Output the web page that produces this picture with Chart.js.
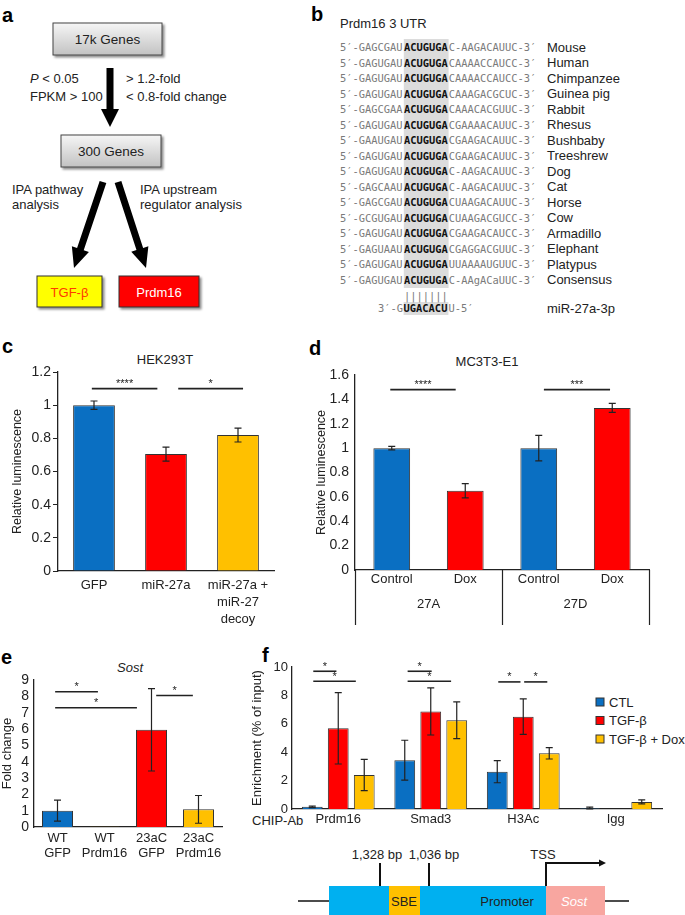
<!DOCTYPE html>
<html>
<head>
<meta charset="utf-8">
<title>Prdm16 / miR-27a figure</title>
<script src="https://cdn.jsdelivr.net/npm/chart.js@4.4.1/dist/chart.umd.min.js"></script>
<style>
  html, body { margin: 0; padding: 0; background: #fff; }
  #page { position: relative; width: 685px; height: 915px; overflow: hidden; font-family: "Liberation Sans", Arial, sans-serif; }
  #art { position: absolute; left: 0; top: 0; }
  canvas { position: absolute; }
</style>
</head>
<body>
<div id="page">
  <svg id="art" width="685" height="915" xmlns="http://www.w3.org/2000/svg" font-family="Liberation Sans, Arial, sans-serif" fill="#222">
    <defs>
      <linearGradient id="gBox" x1="0" y1="0" x2="0" y2="1">
        <stop offset="0" stop-color="#f6f6f6"/>
        <stop offset="1" stop-color="#c2c2c2"/>
      </linearGradient>
      <filter id="shadow" x="-10%" y="-10%" width="130%" height="150%">
        <feDropShadow dx="2" dy="2" stdDeviation="1.2" flood-color="#000" flood-opacity="0.45"/>
      </filter>
    </defs>
    <!-- panel a boxes -->
    <rect x="53" y="23" width="109" height="32" fill="url(#gBox)" stroke="#444" filter="url(#shadow)"/>
    <rect x="61" y="135" width="100" height="32" fill="url(#gBox)" stroke="#444" filter="url(#shadow)"/>
    <rect x="37" y="276" width="65" height="31" fill="#ffff00" stroke="#333" filter="url(#shadow)"/>
    <rect x="119" y="276" width="80" height="31" fill="#ff0000" stroke="#333" filter="url(#shadow)"/>
    <!-- panel b highlight -->
    <rect x="403.8" y="39" width="44.8" height="249" fill="#dcdcdc"/>
    <rect x="403.6" y="302" width="44.8" height="13" fill="#dcdcdc"/>
    <!-- promoter diagram -->
    <line x1="298" y1="901" x2="329" y2="901" stroke="#111" stroke-width="1.5"/>
    <line x1="605" y1="901" x2="629" y2="901" stroke="#111" stroke-width="1.5"/>
    <rect x="329" y="886" width="217" height="35" fill="#00b0f0"/>
    <rect x="389" y="886" width="31" height="35" fill="#ffc000"/>
    <rect x="546" y="886" width="59" height="35" fill="#f8a6a0"/>
    <line x1="380" y1="863" x2="380" y2="886" stroke="#111" stroke-width="2"/>
    <line x1="429" y1="863" x2="429" y2="886" stroke="#111" stroke-width="2"/>
    <polyline points="546,886 546,863 600,863" fill="none" stroke="#111" stroke-width="2"/>
    <polygon points="606,863 599,859.5 599,866.5" fill="#111"/>
  </svg>
  <canvas id="chartC" width="300" height="300" style="left:0;top:340px"></canvas>
  <canvas id="chartD" width="375" height="300" style="left:310px;top:340px"></canvas>
  <canvas id="chartE" width="230" height="210" style="left:0;top:660px"></canvas>
  <canvas id="chartF" width="445" height="185" style="left:240px;top:650px"></canvas>
</div>
<script>
// ---- panel b: Prdm16 3' UTR alignment
const species = ["Mouse", "Human", "Chimpanzee", "Guinea pig", "Rabbit", "Rhesus", "Bushbaby", "Treeshrew",
  "Dog", "Cat", "Horse", "Cow", "Armadillo", "Elephant", "Platypus", "Consensus"];
const utrSeqs = [
  "5′-GAGCGAUACUGUGAC-AAGACAUUC-3′",
  "5′-GAGUGAUACUGUGACAAAACCAUCC-3′",
  "5′-GAGUGAUACUGUGACAAAACCAUCC-3′",
  "5′-GAGUGAUACUGUGACAAAGACGCUC-3′",
  "5′-GAGCGAAACUGUGACAAACACGUUC-3′",
  "5′-GAGUGAUACUGUGACGAAAACAUUC-3′",
  "5′-GAAUGAUACUGUGACGAAGACAUUC-3′",
  "5′-GAGUGAUACUGUGACGAAGACAUUC-3′",
  "5′-GAGUGAUACUGUGAC-AAGACAUUC-3′",
  "5′-GAGCAAUACUGUGAC-AAGACAUUC-3′",
  "5′-GAGCGAUACUGUGACUAAGACAUUC-3′",
  "5′-GCGUGAUACUGUGACUAAGACGUCC-3′",
  "5′-GAGUGAUACUGUGACGAAGACAUCC-3′",
  "5′-GAGUAAUACUGUGACGAGGACGUUC-3′",
  "5′-GAGUGAUACUGUGAUUAAAAUGUUC-3′",
  "5′-GAGUGAUACUGUGAC-AAgACaUUC-3′"
];
const mirSeq = "3′-GUGACACUU-5′";

// ---- panel c: HEK293T luciferase
const hekLabels = ["GFP", "miR-27a", ["miR-27a +", "miR-27", "decoy"]];
const hekValues = [1.0, 0.705, 0.82];
const hekErrors = [0.025, 0.042, 0.042];
const hekSig = [
  { from: -0.03, to: 0.88, y: 1.1, mark: "****" },
  { from: 1.17, to: 2.07, y: 1.1, mark: "*" }
];

// ---- panel d: MC3T3-E1 luciferase
const mcLabels = ["Control", "Dox", "Control", "Dox"];
const mcGroups = ["27A", "27D"];
const mcValues = [1.0, 0.65, 1.0, 1.33];
const mcErrors = [0.015, 0.059, 0.105, 0.037];
const mcSig = [
  { from: -0.02, to: 0.87, y: 1.48, mark: "****" },
  { from: 2.07, to: 2.97, y: 1.48, mark: "***" }
];

// ---- panel e: Sost qPCR
const sostLabels = [["WT", "GFP"], ["WT", "Prdm16"], ["23aC", "GFP"], ["23aC", "Prdm16"]];
const sostValues = [1.0, 0.02, 5.95, 1.08];
const sostErrors = [0.64, 0, 2.52, 0.85];
const sostSig = [
  { from: -0.05, to: 0.86, y: 8.28, mark: "*" },
  { from: -0.05, to: 1.69, y: 7.3, mark: "*" },
  { from: 2.1, to: 2.88, y: 8.05, mark: "*" }
];

// ---- panel f: ChIP
const chipLabels = ["Prdm16", "Smad3", "H3Ac", "Igg"];
const chipSeries = ["CTL", "TGF-β", "TGF-β + Dox"];
const ctlValues = [0.15, 3.44, 2.63, 0.05];
const ctlErrors = [0.05, 1.4, 0.78, 0.08];
const tgfValues = [5.68, 6.87, 6.5, null];
const tgfErrors = [2.51, 1.66, 1.25, 0];
const doxValues = [2.39, 6.25, 3.92, 0.5];
const doxErrors = [1.1, 1.3, 0.4, 0.14];
const chipSig = [
  { from: -0.27, to: -0.02, y: 9.7, mark: "*" },
  { from: -0.27, to: 0.19, y: 9.0, mark: "*" },
  { from: 0.75, to: 1.01, y: 9.7, mark: "*" },
  { from: 0.75, to: 1.22, y: 9.0, mark: "*" },
  { from: 1.73, to: 1.97, y: 8.95, mark: "*" },
  { from: 2.01, to: 2.26, y: 8.95, mark: "*" }
];

const BLUE = "#0a6fc2", RED = "#ff0000", GOLD = "#ffc000";
const INK = "#222";
const FONT = '"Liberation Sans", Arial, sans-serif';

// ---------- static drawing (panels a, b, promoter)
const NS = "http://www.w3.org/2000/svg";
const art = document.getElementById("art");
function el(tag, attrs, text, parent) {
  const e = document.createElementNS(NS, tag);
  for (const k in attrs) e.setAttribute(k, attrs[k]);
  if (text != null) e.textContent = text;
  (parent || art).appendChild(e);
  return e;
}
function txt(x, y, s, attrs) {
  return el("text", Object.assign({ x: x, y: y, "font-size": 13, "dominant-baseline": "central" }, attrs || {}), s);
}
// thick block arrow from (x0,y0) to tip (x1,y1)
function arrow(x0, y0, x1, y1, shaft, headW, headL) {
  const len = Math.hypot(x1 - x0, y1 - y0);
  const ux = (x1 - x0) / len, uy = (y1 - y0) / len, nx = -uy, ny = ux;
  const bx = x1 - ux * headL, by = y1 - uy * headL;
  const pts = [
    [x0 + nx * shaft / 2, y0 + ny * shaft / 2], [bx + nx * shaft / 2, by + ny * shaft / 2],
    [bx + nx * headW / 2, by + ny * headW / 2], [x1, y1],
    [bx - nx * headW / 2, by - ny * headW / 2], [bx - nx * shaft / 2, by - ny * shaft / 2],
    [x0 - nx * shaft / 2, y0 - ny * shaft / 2]
  ];
  el("polygon", { points: pts.map(p => p.join(",")).join(" "), fill: "#000" });
}

// panel letters
[["a", 2, 15], ["b", 311, 14], ["c", 2, 346], ["d", 309, 348], ["e", 1, 657], ["f", 262, 655]]
  .forEach(([s, x, y]) => txt(x, y, s, { "font-size": 20, "font-weight": "bold", fill: "#000" }));

// panel a
txt(107.5, 39, "17k Genes", { "text-anchor": "middle", "font-size": 13.5 });
txt(111, 151, "300 Genes", { "text-anchor": "middle", "font-size": 13.5 });
const pLine = txt(30, 78, null);
el("tspan", { "font-style": "italic" }, "P", pLine);
el("tspan", {}, " < 0.05", pLine);
txt(30, 96, "FPKM > 100");
txt(126, 78, "> 1.2-fold");
txt(126, 96, "< 0.8-fold change");
txt(12, 189, "IPA pathway");
txt(12, 204, "analysis");
txt(140, 189, "IPA upstream");
txt(140, 204, "regulator analysis");
txt(69.5, 292, "TGF-β", { "text-anchor": "middle", fill: "#ff3a00" });
txt(159, 292, "Prdm16", { "text-anchor": "middle", fill: "#fff" });
arrow(110, 68, 110, 127, 7, 18, 18);
arrow(103, 182, 74, 268, 7, 18, 20);
arrow(118, 182, 146, 268, 7, 18, 20);

// panel b
txt(340, 23, "Prdm16 3 UTR");
const CW = 6.4;
const MONO = { "font-family": "DejaVu Sans Mono, Liberation Mono, monospace", "font-size": 10.4, fill: "#7a7a7a" };
function seqLine(x, y, s, cut0, cut1) {
  txt(x, y, s.slice(0, cut0), MONO);
  txt(x + cut0 * CW, y, s.slice(cut0, cut1), Object.assign({}, MONO, { fill: "#111", "font-weight": "bold" }));
  txt(x + cut1 * CW, y, s.slice(cut1), MONO);
}
utrSeqs.forEach((s, i) => {
  const y = 47 + i * 15.5;
  seqLine(340, y, s, 10, 17);
  txt(547, y, species[i]);
});
txt(404, 296, "|||||||", MONO);
seqLine(378, 308, mirSeq, 4, 11);
txt(547, 308, "miR-27a-3p");

// chart titles and legend
txt(165, 359, "HEK293T", { "text-anchor": "middle" });
txt(487, 361, "MC3T3-E1", { "text-anchor": "middle" });
txt(130, 667, "Sost", { "text-anchor": "middle", "font-style": "italic" });
txt(252, 820, "CHIP-Ab");
[BLUE, RED, GOLD].forEach((c, i) => {
  const y = 702 + i * 18.5;
  el("rect", { x: 596, y: y - 4, width: 8, height: 8, fill: c, stroke: "#333", "stroke-width": 1 });
  txt(609, y, chipSeries[i]);
});

// promoter diagram labels
txt(377, 854, "1,328 bp", { "text-anchor": "middle" });
txt(434, 854, "1,036 bp", { "text-anchor": "middle" });
txt(543, 854, "TSS", { "text-anchor": "middle" });
txt(404, 901, "SBE", { "text-anchor": "middle" });
txt(507, 901, "Promoter", { "text-anchor": "middle" });
txt(574, 901, "Sost", { "text-anchor": "middle", "font-style": "italic", fill: "#fff" });

// ---------- Chart.js panels
Chart.defaults.font.family = FONT;
Chart.defaults.font.size = 13;
Chart.defaults.color = INK;

// error bars from dataset.errors
const errorBars = {
  id: "errorBars",
  afterDatasetsDraw(chart) {
    const ctx = chart.ctx, y = chart.scales.y;
    chart.data.datasets.forEach((ds, i) => {
      if (!ds.errors) return;
      chart.getDatasetMeta(i).data.forEach((bar, j) => {
        const v = ds.data[j], e = ds.errors[j];
        if (v == null || !e) return;
        const top = y.getPixelForValue(v + e), bot = y.getPixelForValue(Math.max(v - e, 0));
        ctx.save();
        ctx.strokeStyle = INK;
        ctx.lineWidth = 1.2;
        ctx.beginPath();
        ctx.moveTo(bar.x, top); ctx.lineTo(bar.x, bot);
        ctx.moveTo(bar.x - 3.5, top); ctx.lineTo(bar.x + 3.5, top);
        ctx.moveTo(bar.x - 3.5, bot); ctx.lineTo(bar.x + 3.5, bot);
        ctx.stroke();
        ctx.restore();
      });
    });
  }
};

// significance bars with stars
const sigLines = {
  id: "sig",
  afterDatasetsDraw(chart, args, opts) {
    if (!opts.lines) return;
    const { ctx, scales: { x, y } } = chart;
    opts.lines.forEach(l => {
      const x0 = x.getPixelForValue(l.from), x1 = x.getPixelForValue(l.to), py = y.getPixelForValue(l.y);
      ctx.save();
      ctx.strokeStyle = INK;
      ctx.lineWidth = 1.6;
      ctx.beginPath(); ctx.moveTo(x0, py); ctx.lineTo(x1, py); ctx.stroke();
      ctx.fillStyle = INK;
      ctx.font = "11px " + FONT;
      ctx.textAlign = "center";
      ctx.textBaseline = "alphabetic";
      ctx.fillText(l.mark, (x0 + x1) / 2, py - 1.5);
      ctx.restore();
    });
  }
};

// two-level category axis (panel d)
const groupAxis = {
  id: "groupAxis",
  afterDraw(chart, args, opts) {
    if (!opts.groups) return;
    const { ctx, chartArea, scales: { x } } = chart;
    const per = chart.data.labels.length / opts.groups.length;
    ctx.save();
    ctx.strokeStyle = INK;
    ctx.lineWidth = 1.2;
    for (let g = 0; g <= opts.groups.length; g++) {
      const px = Math.round(x.getPixelForValue(g * per - 0.5)) + 0.5;
      ctx.beginPath(); ctx.moveTo(px, chartArea.bottom); ctx.lineTo(px, chartArea.bottom + opts.depth); ctx.stroke();
    }
    ctx.fillStyle = INK;
    ctx.font = "13px " + FONT;
    ctx.textAlign = "center";
    ctx.textBaseline = "middle";
    opts.groups.forEach((g, i) => ctx.fillText(g, x.getPixelForValue(i * per + (per - 1) / 2), chartArea.bottom + opts.offset));
    ctx.restore();
  }
};

const oneDecimal = v => String(Math.round(v * 10) / 10);

function xAxis(height, pad, lineHeight) {
  return {
    grid: { display: false, drawTicks: false },
    border: { color: INK, width: 1.3 },
    ticks: { padding: pad, maxRotation: 0, autoSkip: false, font: { size: 13, lineHeight: lineHeight } },
    afterFit(s) { s.height = height; }
  };
}
function yAxis(max, step, width, title, tickMarks, pad, tickSize) {
  return {
    min: 0, max: max,
    ticks: { stepSize: step, padding: pad, autoSkip: false, callback: oneDecimal, font: { size: tickSize } },
    grid: tickMarks ? { drawOnChartArea: false, tickLength: 5, color: INK } : { display: false, drawTicks: false },
    border: { color: INK, width: 1.3 },
    title: { display: true, text: title, font: { size: 12.5 }, padding: { top: 4, bottom: 0 } },
    afterFit(s) { s.width = width; }
  };
}

// c
new Chart(document.getElementById("chartC"), {
  type: "bar",
  data: {
    labels: hekLabels,
    datasets: [{ data: hekValues, errors: hekErrors, backgroundColor: [BLUE, RED, GOLD],
      borderColor: "#333", borderWidth: 1, barPercentage: 0.58, categoryPercentage: 1 }]
  },
  options: {
    responsive: false, animation: false,
    layout: { padding: { left: 6, top: 32, right: 26, bottom: 9 } },
    plugins: { legend: { display: false }, tooltip: { enabled: false }, sig: { lines: hekSig } },
    scales: { x: xAxis(60, 6, 1.3), y: yAxis(1.2, 0.2, 52, "Relative luminescence", true, 2, 14) }
  },
  plugins: [errorBars, sigLines]
});

// d
new Chart(document.getElementById("chartD"), {
  type: "bar",
  data: {
    labels: mcLabels,
    datasets: [{ data: mcValues, errors: mcErrors, backgroundColor: [BLUE, RED, BLUE, RED],
      borderColor: "#333", borderWidth: 1, barPercentage: 0.5, categoryPercentage: 1 }]
  },
  options: {
    responsive: false, animation: false,
    layout: { padding: { left: 0, top: 35, right: 36, bottom: 0 } },
    plugins: { legend: { display: false }, tooltip: { enabled: false }, sig: { lines: mcSig },
      groupAxis: { groups: mcGroups, depth: 55, offset: 34 } },
    scales: { x: xAxis(70, 2, 1.2), y: yAxis(1.6, 0.2, 45, "Relative luminescence", false, 6, 14) }
  },
  plugins: [errorBars, sigLines, groupAxis]
});

// e
const sostY = yAxis(9, 1, 34, "Fold change", false, 5, 14);
sostY.title.padding = { top: 0, bottom: 0 };
sostY.title.font = { size: 13 };
new Chart(document.getElementById("chartE"), {
  type: "bar",
  data: {
    labels: sostLabels,
    datasets: [{ data: sostValues, errors: sostErrors, backgroundColor: [BLUE, GOLD, RED, GOLD],
      borderColor: "#333", borderWidth: 1, barPercentage: 0.66, categoryPercentage: 1 }]
  },
  options: {
    responsive: false, animation: false,
    layout: { padding: { left: 0, top: 20, right: 8, bottom: 3 } },
    plugins: { legend: { display: false }, tooltip: { enabled: false }, sig: { lines: sostSig } },
    scales: { x: xAxis(40, 3.5, 1.15), y: sostY }
  },
  plugins: [errorBars, sigLines]
});

// f
const chipY = yAxis(10, 2, 46, "Enrichment (% of input)", false, 4, 13);
chipY.title.font = { size: 13 };
const chipSet = (label, data, errors, color) => ({ label, data, errors, backgroundColor: color,
  borderColor: "#333", borderWidth: 1, barPercentage: 0.8, categoryPercentage: 0.843 });
new Chart(document.getElementById("chartF"), {
  type: "bar",
  data: {
    labels: chipLabels,
    datasets: [
      chipSet(chipSeries[0], ctlValues, ctlErrors, BLUE),
      chipSet(chipSeries[1], tgfValues, tgfErrors, RED),
      chipSet(chipSeries[2], doxValues, doxErrors, GOLD)
    ]
  },
  options: {
    responsive: false, animation: false,
    layout: { padding: { left: 6, top: 17, right: 23, bottom: 6 } },
    plugins: { legend: { display: false }, tooltip: { enabled: false }, sig: { lines: chipSig } },
    scales: { x: xAxis(20, 3, 1.2), y: chipY }
  },
  plugins: [errorBars, sigLines]
});
</script>
</body>
</html>
